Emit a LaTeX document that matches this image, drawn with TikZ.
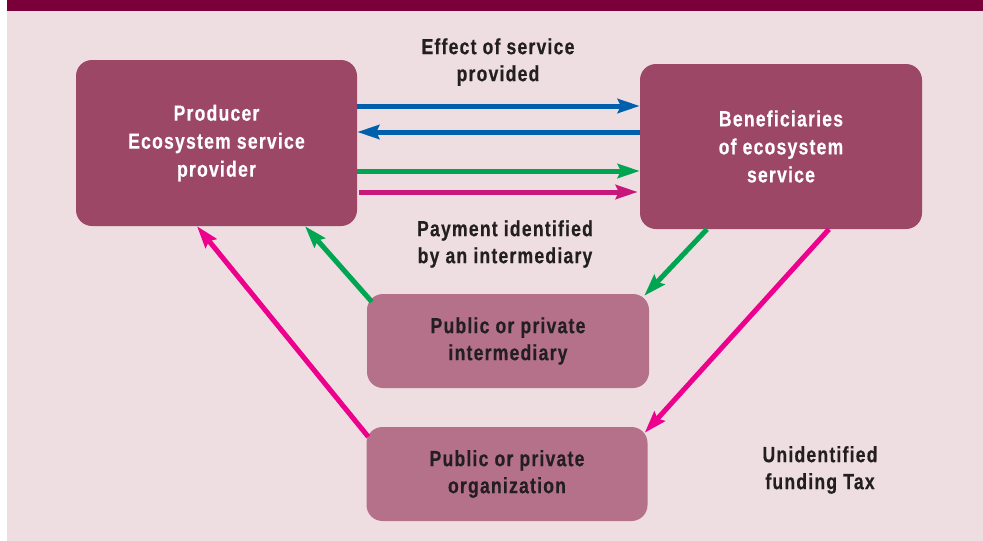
\documentclass[tikz,border=0pt]{standalone}
\usepackage{fontspec}
\setmainfont{Liberation Sans}[FakeStretch=0.8,LetterSpace=5.5,BoldFeatures={FakeBold=0.4}]
\usetikzlibrary{arrows.meta}
\definecolor{barc}{HTML}{7A0039}
\definecolor{bgc}{HTML}{EEDDE1}
\definecolor{darkbox}{HTML}{9C4766}
\definecolor{lightbox}{HTML}{B5718A}
\definecolor{bluec}{HTML}{0060AC}
\definecolor{greenc}{HTML}{00A551}
\definecolor{magh}{HTML}{C8177B}
\definecolor{magd}{HTML}{EC008C}
\definecolor{txt}{HTML}{231F20}
\tikzset{
  bigbox/.style={rectangle, rounded corners=16pt, fill=darkbox, text=white, align=center,
    font=\fontsize{22}{28}\selectfont\bfseries, inner sep=0pt},
  smallbox/.style={rectangle, rounded corners=16pt, fill=lightbox, text=txt, align=center,
    font=\fontsize{22}{27}\selectfont\bfseries, inner sep=0pt},
  lbl/.style={text=txt, align=center, font=\fontsize{22}{27}\selectfont\bfseries, inner sep=0pt},
  arr/.style={line width=5pt, -{Stealth[length=22pt,width=14pt,inset=3pt]}}
}
\begin{document}
\begin{tikzpicture}[x=1pt,y=-1pt]
\useasboundingbox (0,0) rectangle (983,541);
\fill[white] (0,0) rectangle (983,541);
\fill[bgc] (7,11) rectangle (983,541);
\fill[barc] (7,0) rectangle (983,11);

\node[bigbox, minimum width=281pt, minimum height=166pt] (prod) at (216.5,143) {Producer\\Ecosystem service\\provider};
\node[bigbox, minimum width=282pt, minimum height=165pt] (ben) at (781,146.5) {Beneficiaries\\of ecosystem\\service};
\node[smallbox, minimum width=282pt, minimum height=94pt] (inter) at (508,341) {Public or private\\intermediary};
\node[smallbox, minimum width=281pt, minimum height=94pt] (org) at (507,474) {Public or private\\organization};

\node[lbl] (eff) at (498,62) {Effect of service\\provided};
\node[lbl] (pay) at (505,244) {Payment identified\\by an intermediary};
\node[lbl] (unf) at (820,470) {Unidentified\\funding Tax};

\draw[arr, bluec] (prod.east |- 0,106) -- (ben.west |- 0,106);
\draw[arr, bluec] (ben.west |- 0,132) -- (prod.east |- 0,132);
\draw[arr, greenc] (prod.east |- 0,171) -- (ben.west |- 0,171);
\draw[arr, magh] ([xshift=2pt]prod.east |- 0,192) -- ([xshift=-2pt]ben.west |- 0,192);

\draw[arr, greenc] ([shift={(5,8)}]inter.north west) -- (305,0 |- prod.south);
\draw[arr, greenc] (707,0 |- ben.south) -- ([shift={(-5,2)}]inter.north east);
\draw[arr, magd] ([shift={(2,10)}]org.north west) -- (197,0 |- prod.south);
\draw[arr, magd] (829,0 |- ben.south) -- ([shift={(-3,6)}]org.north east);
\end{tikzpicture}
\end{document}
